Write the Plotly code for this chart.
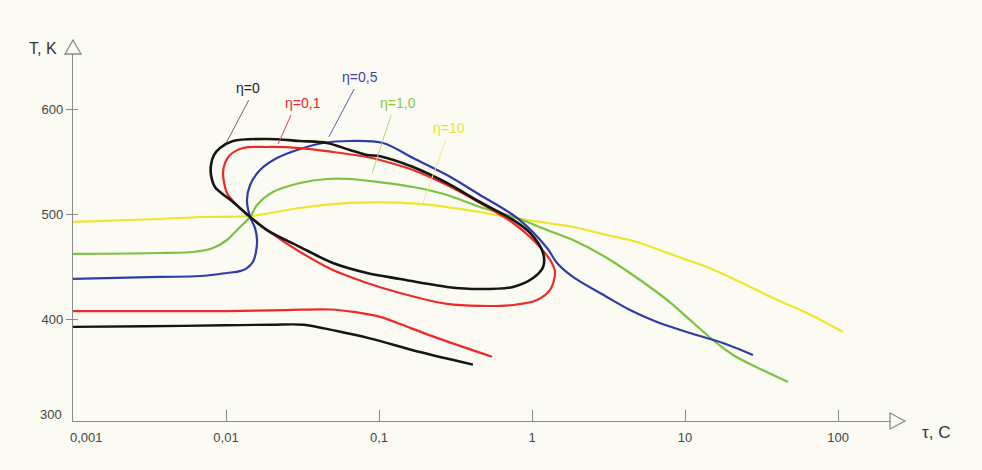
import math
import plotly.graph_objects as go

# ---------------- data (tau in s, T in K) ----------------
black_low_tau = [0.001, 0.003, 0.01, 0.02, 0.032, 0.053, 0.087, 0.185, 0.411]
black_low_T = [393, 393.5, 394.5, 395, 395, 389, 382, 369, 357]

red_low_tau = [0.001, 0.005, 0.01, 0.025, 0.048, 0.07, 0.1016, 0.16, 0.239, 0.548]
red_low_T = [408, 408, 408, 409, 409.5, 407, 402.5, 392, 382.5, 364.5]

black_loop_tau = [0.01437, 0.01111, 0.00847, 0.00798, 0.00798, 0.00835, 0.00914, 0.01111,
                  0.01853, 0.0305, 0.0457, 0.0646, 0.0835, 0.1016, 0.1668, 0.278, 0.457,
                  0.752, 0.971, 1.181, 1.181, 1.016, 0.752, 0.457, 0.278, 0.1372,
                  0.0835, 0.05, 0.0305, 0.01853, 0.01437]
black_loop_T = [497.6, 511.9, 526.2, 537.6, 547.1, 556.7, 563.3, 570.0,
                571.9, 570.0, 568.1, 561.4, 556.7, 555.5, 545.2, 530.0, 511.9,
                494.8, 482.4, 463.3, 450.0, 439.5, 431.0, 429.0, 431.0, 438.6,
                444.3, 453.8, 469.0, 485.2, 497.6]

red_loop_tau = [0.01437, 0.0118, 0.01015, 0.00956, 0.00985, 0.01062, 0.01292, 0.01853,
                0.0305, 0.05, 0.0835, 0.1016, 0.1668, 0.278, 0.457, 0.752, 0.971, 1.312,
                1.414, 1.312, 1.079, 0.752, 0.457, 0.278, 0.1372, 0.0835, 0.05,
                0.0305, 0.01853, 0.01437]
red_loop_T = [497.6, 509.0, 520.5, 539.5, 549.0, 556.7, 563.3, 564.3,
              563.3, 559.5, 554.8, 551.9, 542.4, 528.1, 511.0, 491.9, 478.6, 456.7,
              445.2, 428.1, 418.6, 413.8, 412.9, 414.8, 425.2, 434.8, 447.1,
              464.3, 485.2, 497.6]

blue_tau = [0.001, 0.00371, 0.00676, 0.01015, 0.01235, 0.01371, 0.01502, 0.0157, 0.01595,
            0.01548, 0.01437, 0.01371, 0.01437, 0.01669, 0.02154, 0.0305, 0.043, 0.0646,
            0.1063, 0.1668, 0.278, 0.457, 0.798, 1.254, 1.457, 1.853, 3.09, 4.37, 6.56,
            10.8, 17.7, 27.8]
blue_T = [438.6, 440.5, 441.4, 444.3, 446.0, 449.0, 455.0, 464.3, 475.7,
          487.0, 497.6, 513.8, 528.1, 542.4, 553.8, 562.4, 568.1, 570.0,
          568.1, 553.8, 537.6, 518.6, 496.7, 468.1, 453.8, 440.5, 421.4, 409.0, 397.6,
          387.1, 377.6, 366.2]

green_tau = [0.001, 0.00371, 0.00608, 0.00822, 0.01015, 0.01235, 0.01437, 0.01595, 0.02029,
             0.0305, 0.0457, 0.0646, 0.097, 0.1668, 0.278, 0.457, 0.798, 1.254, 1.853,
             3.09, 5.08, 7.63, 10.8, 15.2, 20.6, 29.6, 47.1]
green_T = [462.4, 463.3, 464.3, 468.1, 475.7, 488.1, 497.6, 509.0, 521.4,
           530.0, 533.8, 533.8, 531.0, 526.2, 518.6, 507.1, 496.7, 485.2, 475.7,
           458.6, 437.6, 418.6, 399.5, 380.5, 366.2, 354.3, 340.5]

yellow_tau = [0.001, 0.00371, 0.00676, 0.01437, 0.0305, 0.0646, 0.1016, 0.1668, 0.278,
              0.457, 0.752, 1.254, 1.853, 3.09, 5.08, 8.35, 13.9, 22.9, 37.6, 62.7, 107.8]
yellow_T = [492.9, 495.7, 497.6, 498.6, 506.2, 511.0, 511.5, 510.5, 507.1,
            502.4, 496.7, 491.9, 488.1, 480.5, 472.9, 461.4, 450.0, 435.7, 420.5, 406.2, 388.1]

curve_labels = ["η=0", "η=0,1", "η=0,5", "η=1,0", "η=10"]
label_tau = [0.01393, 0.0319, 0.0752, 0.133, 0.287]
label_T = [620.5, 606.2, 631.0, 606.2, 582.4]
leader_tau = [(0.0141, 0.0101), (0.0266, 0.0219), (0.0688, 0.047), (0.120, 0.0903), (0.273, 0.194)]
leader_T = [(609.0, 569.0), (594.8, 567.1), (619.5, 573.8), (594.8, 539.5), (571.0, 511.0)]

x_tick_vals = [0.01, 0.1, 1, 10, 100]
x_tick_text = ["0,01", "0,1", "1", "10", "100"]
y_tick_vals = [400, 500, 600]
y_tick_text = ["400", "500", "600"]

# ---------------- style ----------------
BG = "#fbfbf4"
AX = "#8a8a8a"
C_BLACK = "#151515"
C_RED = "#ee2a26"
C_BLUE = "#2f3ca8"
C_GREEN = "#7cc242"
C_YELLOW = "#f0e52a"
label_colors = ["#222222", "#e8262a", "#3d3fa8", "#8ec63f", "#ebe22c"]
leader_colors = ["#7d6262", "#e24848", "#5a5aa8", "#b2d47a", "#efe98a"]
FONT = "Liberation Sans, Arial"

W, H = 982, 470
ML, MR, MT, MB = 73, 77, 40, 49
PW, PH = W - ML - MR, H - MT - MB

fig = go.Figure()

def add_line(xs, ys, color, width=2.2):
    fig.add_trace(go.Scatter(x=xs, y=ys, mode="lines",
                             line=dict(color=color, width=width, shape="spline", smoothing=0.9),
                             hoverinfo="skip", showlegend=False))

add_line(yellow_tau, yellow_T, C_YELLOW)
add_line(green_tau, green_T, C_GREEN)
add_line(blue_tau, blue_T, C_BLUE)
add_line(red_low_tau, red_low_T, C_RED)
add_line(red_loop_tau, red_loop_T, C_RED)
add_line(black_low_tau, black_low_T, C_BLACK, 2.4)
add_line(black_loop_tau, black_loop_T, C_BLACK, 2.6)

for (tx, ty, col) in zip(leader_tau, leader_T, leader_colors):
    fig.add_trace(go.Scatter(x=list(tx), y=list(ty), mode="lines",
                             line=dict(color=col, width=1), hoverinfo="skip", showlegend=False))

annotations = []
for txt, tx, ty, col in zip(curve_labels, label_tau, label_T, label_colors):
    annotations.append(dict(x=math.log10(tx), y=ty, xref="x", yref="y", text=txt,
                            showarrow=False, xanchor="center", yanchor="middle",
                            font=dict(family=FONT, size=14, color=col)))

def px_note(text, px, py, size, color="#444444"):
    annotations.append(dict(x=(px - ML) / PW, y=((H - MB) - py) / PH, xref="paper", yref="paper",
                            text=text, showarrow=False, xanchor="center", yanchor="middle",
                            font=dict(family=FONT, size=size, color=color)))

px_note("T, K", 43, 48, 16, "#333333")
px_note("τ, C", 936, 432, 17, "#333333")
px_note("0,001", 86, 437, 13)
px_note("300", 51, 414, 13)

# axis arrow heads (hollow triangles) and inner halves of the y ticks
ax_len, ax_half = 15 / PW, 8 / PH
ay_len, ay_half = 14 / PH, 8 / PW
shapes = [
    dict(type="path", xref="paper", yref="paper", layer="above",
         path=f"M 1,0 L {1 - ax_len},{ax_half} L {1 - ax_len},{-ax_half} Z",
         line=dict(color=AX, width=1.3), fillcolor=BG),
    dict(type="path", xref="paper", yref="paper", layer="above",
         path=f"M 0,1 L {-ay_half},{1 - ay_len} L {ay_half},{1 - ay_len} Z",
         line=dict(color=AX, width=1.3), fillcolor=BG),
]
for v in y_tick_vals:
    shapes.append(dict(type="line", xref="paper", yref="y", x0=0, x1=5 / PW, y0=v, y1=v,
                       line=dict(color=AX, width=1)))

fig.update_layout(
    width=W, height=H,
    margin=dict(l=ML, r=MR, t=MT, b=MB),
    paper_bgcolor=BG, plot_bgcolor=BG,
    showlegend=False,
    annotations=annotations,
    shapes=shapes,
    xaxis=dict(type="log", range=[-3, math.log10(274)], showgrid=False, zeroline=False,
               showline=True, linecolor=AX, linewidth=1.4,
               tickmode="array", tickvals=x_tick_vals, ticktext=x_tick_text,
               ticks="inside", ticklen=11, tickcolor=AX, tickwidth=1,
               ticklabelstandoff=4,
               tickfont=dict(family=FONT, size=13, color="#444444")),
    yaxis=dict(range=[303.3, 666.2], showgrid=False, zeroline=False,
               showline=True, linecolor=AX, linewidth=1.4,
               tickmode="array", tickvals=y_tick_vals, ticktext=y_tick_text,
               ticks="outside", ticklen=6, tickcolor=AX, tickwidth=1,
               tickfont=dict(family=FONT, size=13, color="#444444")),
)

fig.write_html("out.html", config={"displayModeBar": False},
               post_script="document.body.style.margin='0';document.body.style.background='" + BG + "';")
